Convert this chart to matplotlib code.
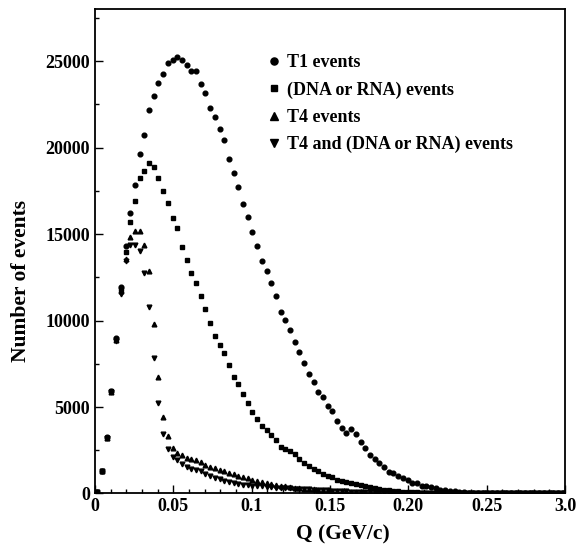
import numpy as np
import matplotlib
matplotlib.use('Agg')
import matplotlib.pyplot as plt
from matplotlib.ticker import MultipleLocator

plt.rcParams['font.family'] = ['Liberation Serif', 'DejaVu Serif']
plt.rcParams['font.weight'] = 'bold'

# bin centres of Q (GeV/c)
q = [0.0015, 0.0045, 0.0075, 0.0105, 0.0135, 0.0165, 0.0195, 0.0225, 0.0255, 0.0285,
     0.0315, 0.0345, 0.0375, 0.0405, 0.0435, 0.0465, 0.0495, 0.0525, 0.0555, 0.0585,
     0.0615, 0.0645, 0.0675, 0.0705, 0.0735, 0.0765, 0.0795, 0.0825, 0.0855, 0.0885,
     0.0915, 0.0945, 0.0975, 0.1005, 0.1035, 0.1065, 0.1095, 0.1125, 0.1155, 0.1185,
     0.1215, 0.1245, 0.1275, 0.1305, 0.1335, 0.1365, 0.1395, 0.1425, 0.1455, 0.1485,
     0.1515, 0.1545, 0.1575, 0.1605, 0.1635, 0.1665, 0.1695, 0.1725, 0.1755, 0.1785,
     0.1815, 0.1845, 0.1875, 0.1905, 0.1935, 0.1965, 0.1995, 0.2025, 0.2055, 0.2085,
     0.2115, 0.2145, 0.2175, 0.2205, 0.2235, 0.2265, 0.2295, 0.2325, 0.2355, 0.2385,
     0.2415, 0.2445, 0.2475, 0.2505, 0.2535, 0.2565, 0.2595, 0.2625, 0.2655, 0.2685,
     0.2715, 0.2745, 0.2775, 0.2805, 0.2835, 0.2865, 0.2895, 0.2925, 0.2955, 0.2985]

t1_events = [110, 1300, 3250, 5950, 9000, 11950, 14290, 16220, 17830, 19660,
             20750, 22180, 22970, 23720, 24290, 24870, 25080, 25270, 25080, 24790,
             24440, 24440, 23710, 23140, 22290, 21750, 21060, 20440, 19330, 18540,
             17740, 16760, 15970, 15140, 14330, 13420, 12880, 12200, 11430, 10520,
             10040, 9460, 8740, 8160, 7560, 6940, 6460, 5880, 5590, 5060,
             4760, 4190, 3810, 3520, 3710, 3460, 2980, 2630, 2250, 1970,
             1760, 1530, 1260, 1200, 1040, 910, 800, 620, 600, 460,
             410, 350, 290, 230, 200, 160, 120, 90, 60, 45,
             30, 22, 16, 12, 9, 7, 5, 4, 3, 2,
             2, 1, 1, 1, 0, 0, 0, 0, 0, 0]

dna_events = [110, 1290, 3210, 5900, 8950, 11850, 13960, 15680, 16900, 18270,
              18640, 19120, 18890, 18270, 17480, 16800, 15930, 15350, 14230, 13510,
              12740, 12200, 11440, 10650, 9880, 9120, 8570, 8120, 7450, 6730,
              6340, 5730, 5240, 4740, 4330, 3930, 3650, 3380, 3120, 2690,
              2550, 2440, 2260, 2010, 1780, 1580, 1430, 1280, 1140, 1000,
              945, 760, 700, 640, 590, 530, 470, 410, 360, 310,
              270, 230, 195, 165, 140, 115, 95, 78, 62, 50,
              40, 32, 25, 20, 15, 12, 9, 7, 5, 4,
              3, 2, 2, 1, 1, 1, 1, 0, 0, 0,
              0, 0, 0, 0, 0, 0, 0, 0, 0, 0]

t4_events = [110, 1290, 3200, 5850, 8850, 11700, 13570, 14810, 15200, 15160,
             14350, 12840, 9780, 6710, 4410, 3310, 2650, 2360, 2200, 2070,
             1970, 1910, 1800, 1630, 1530, 1450, 1370, 1280, 1180, 1100,
             1030, 950, 890, 800, 730, 660, 600, 540, 490, 450,
             410, 370, 340, 310, 285, 260, 240, 220, 200, 180,
             165, 150, 138, 126, 115, 105, 95, 86, 77, 69,
             61, 54, 48, 42, 37, 32, 28, 24, 20, 17,
             14, 12, 10, 8, 7, 6, 5, 4, 3, 3,
             2, 2, 2, 1, 1, 1, 1, 1, 1, 0,
             0, 0, 0, 0, 0, 0, 0, 0, 0, 0]

t4_dna_events = [110, 1290, 3200, 5850, 8800, 11550, 13420, 14400, 14400, 14000,
                 12780, 10790, 7850, 5250, 3420, 2600, 2110, 1910, 1720, 1530,
                 1430, 1370, 1290, 1100, 1010, 910, 830, 750, 680, 620,
                 560, 505, 475, 450, 425, 405, 385, 365, 345, 325,
                 305, 290, 275, 260, 245, 232, 218, 205, 192, 178,
                 164, 150, 138, 126, 115, 105, 95, 86, 77, 69,
                 61, 54, 48, 42, 37, 32, 28, 24, 20, 17,
                 14, 12, 10, 8, 7, 6, 5, 4, 3, 3,
                 2, 2, 2, 1, 1, 1, 1, 1, 1, 0,
                 0, 0, 0, 0, 0, 0, 0, 0, 0, 0]

x_ticks = [0, 0.05, 0.1, 0.15, 0.20, 0.25, 0.30]
x_tick_labels = ['0', '0.05', '0.1', '0.15', '0.20', '0.25', '3.0']
y_ticks = [0, 5000, 10000, 15000, 20000, 25000]

fig = plt.figure(figsize=(5.88, 5.45), dpi=100)
ax = fig.add_axes([0.1616, 0.0945, 0.7993, 0.8883])

ms = 3.4
ax.plot(q, t1_events, 'o', color='black', ms=ms, label='T1 events')
ax.plot(q, dna_events, 's', color='black', ms=ms * 0.95, label='(DNA or RNA) events')
ax.plot(q, t4_events, '^', color='black', ms=ms, label='T4 events')
ax.plot(q, t4_dna_events, 'v', color='black', ms=ms, label='T4 and (DNA or RNA) events')

ax.set_xlim(0, 0.30)
ax.set_ylim(0, 28000)
ax.set_xticks(x_ticks)
ax.set_xticklabels(x_tick_labels)
ax.set_yticks(y_ticks)
ax.xaxis.set_minor_locator(MultipleLocator(0.01))
ax.yaxis.set_minor_locator(MultipleLocator(2500))
ax.tick_params(which='both', direction='in', top=False, right=False, labelsize=13, width=1.0)
ax.tick_params(which='major', length=6)
ax.tick_params(which='minor', length=3)
for s in ax.spines.values():
    s.set_linewidth(1.3)

ax.set_xlabel('Q (GeV/c)', fontsize=15.5, fontweight='bold')
ax.set_ylabel('Number of events', fontsize=15.5, fontweight='bold')
ax.xaxis.set_label_coords(0.528, -0.063)
ax.yaxis.set_label_coords(-0.136, 0.439)

ax.legend(loc='upper left', bbox_to_anchor=(0.362, 0.907), frameon=False,
          fontsize=13, handlelength=1.0, handletextpad=0.2, labelspacing=0.56,
          borderaxespad=0, borderpad=0, markerscale=1.5, numpoints=1)

fig.savefig('out.png', dpi=100)
